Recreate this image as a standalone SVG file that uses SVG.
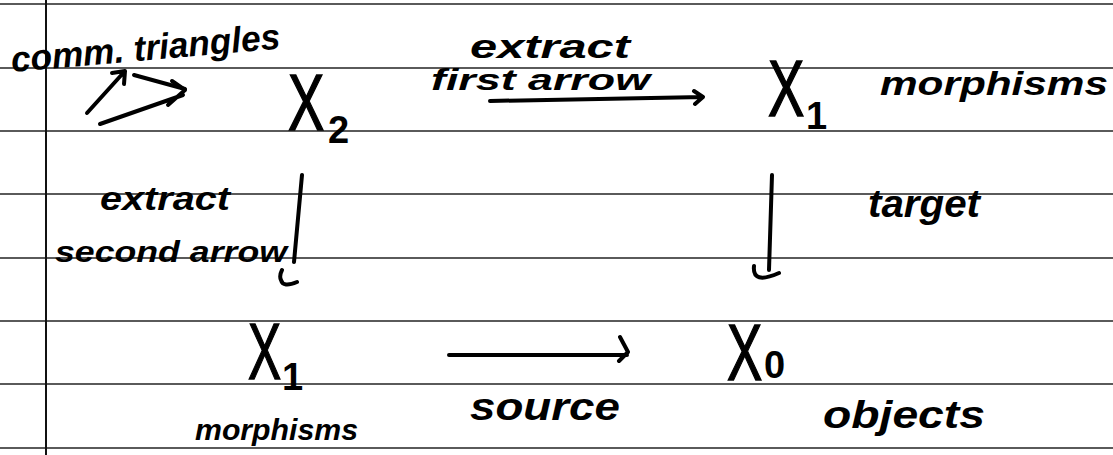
<svg xmlns="http://www.w3.org/2000/svg" width="1113" height="455" viewBox="0 0 1113 455">
  <style>
    .rule { stroke: #5a5a5a; stroke-width: 2; }
    .margin { stroke: #111; stroke-width: 2; }
    .ink { font-family: "Liberation Sans", "DejaVu Sans", sans-serif; fill: #000; }
    .note { font-style: italic; font-weight: bold; }
    .var { font-size: 80px; stroke: #000; stroke-width: 1.5; }
    .sub { font-size: 38px; font-weight: bold; }
    .wire { fill: none; stroke: #000; stroke-width: 4; stroke-linecap: round; stroke-linejoin: round; }
  </style>

  <!-- ruled paper -->
  <rect width="1113" height="455" fill="#fff"/>
  <g id="paper">
    <line class="rule" x1="0" y1="4" x2="1113" y2="4"/>
    <line class="rule" x1="0" y1="68" x2="1113" y2="68"/>
    <line class="rule" x1="0" y1="131" x2="1113" y2="131"/>
    <line class="rule" x1="0" y1="194" x2="1113" y2="194"/>
    <line class="rule" x1="0" y1="258" x2="1113" y2="258"/>
    <line class="rule" x1="0" y1="321" x2="1113" y2="321"/>
    <line class="rule" x1="0" y1="384" x2="1113" y2="384"/>
    <line class="rule" x1="0" y1="448" x2="1113" y2="448"/>
    <line class="margin" x1="46" y1="0" x2="46" y2="455"/>
  </g>

  <!-- objects of the square: a narrow X with its index -->
  <g id="node-x2">
    <text class="ink var" transform="translate(288 130) scale(0.68 1)">X</text>
    <text class="ink sub" x="328" y="143">2</text>
  </g>
  <g id="node-x1-top">
    <text class="ink var" transform="translate(768 116) scale(0.68 1)">X</text>
    <text class="ink sub" x="806" y="129">1</text>
  </g>
  <g id="node-x1-bottom">
    <text class="ink var" transform="translate(248 379) scale(0.62 1)">X</text>
    <text class="ink sub" x="282" y="390">1</text>
  </g>
  <g id="node-x0">
    <text class="ink var" transform="translate(727 380) scale(0.66 1)">X</text>
    <text class="ink sub" x="764" y="378">0</text>
  </g>

  <!-- annotations -->
  <g id="labels">
    <text class="ink note" x="12" y="72" font-size="36" textLength="270" lengthAdjust="spacingAndGlyphs" transform="rotate(-5 12 72)">comm. triangles</text>
    <text class="ink note" x="470" y="58" font-size="34" textLength="160" lengthAdjust="spacingAndGlyphs">extract</text>
    <text class="ink note" x="431" y="90" font-size="30" textLength="219" lengthAdjust="spacingAndGlyphs">first arrow</text>
    <text class="ink note" x="880" y="95" font-size="34" textLength="228" lengthAdjust="spacingAndGlyphs">morphisms</text>
    <text class="ink note" x="100" y="210" font-size="34" textLength="130" lengthAdjust="spacingAndGlyphs">extract</text>
    <text class="ink note" x="55" y="262" font-size="30" textLength="232" lengthAdjust="spacingAndGlyphs">second arrow</text>
    <text class="ink note" x="868" y="217" font-size="38" textLength="112" lengthAdjust="spacingAndGlyphs">target</text>
    <text class="ink note" x="470" y="420" font-size="38" textLength="150" lengthAdjust="spacingAndGlyphs">source</text>
    <text class="ink note" x="195" y="440" font-size="30" textLength="163" lengthAdjust="spacingAndGlyphs">morphisms</text>
    <text class="ink note" x="823" y="428" font-size="38" textLength="162" lengthAdjust="spacingAndGlyphs">objects</text>
  </g>

  <!-- arrows -->
  <g id="connectors">
    <!-- little commuting triangle glyph -->
    <path class="wire" d="M87 113 L125 71 M112 73 L125 71 L124 84"/>
    <path class="wire" d="M134 75 L185 89"/>
    <path class="wire" d="M100 124 L183 95 M172 81 L185 90 L168 105"/>
    <!-- X2 -> X1 : extract first arrow -->
    <path class="wire" d="M490 101 L703 97 M694 91 L703 97 L695 104"/>
    <!-- X2 -> X1 : extract second arrow -->
    <path class="wire" d="M302 175 L294 262 M282 270 Q279 276 281 280 Q283 288 297 282"/>
    <!-- X1 -> X0 : target -->
    <path class="wire" d="M772 175 L769 270 M754 266 Q752 285 779 273"/>
    <!-- X1 -> X0 : source -->
    <path class="wire" d="M449 355 L627 355 M620 337 L628 352 L619 361"/>
  </g>
</svg>
